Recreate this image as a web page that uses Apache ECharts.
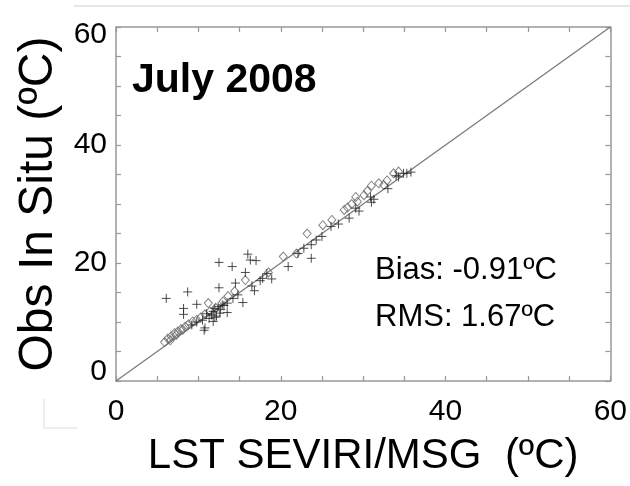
<!DOCTYPE html>
<html>
<head>
<meta charset="utf-8">
<script src="https://cdn.jsdelivr.net/npm/echarts@6/dist/echarts.min.js"></script>
<style>html,body{margin:0;padding:0;background:#fff}#c{width:630px;height:486px}</style>
</head>
<body>
<div id="c"></div>
<script>
// Axis ticks
var axisMin = 0, axisMax = 60, labelStep = 20, tickStep = 5;
var xTitle = 'LST SEVIRI/MSG  (ºC)';
var yTitle = 'Obs In Situ (ºC)';
var chartTitle = 'July 2008';
var biasText = 'Bias: -0.91ºC';
var rmsText = 'RMS: 1.67ºC';
// 1:1 reference line
var oneToOne = [[0, 0], [60, 60]];
// Plus-marker observations [LST, in situ]
var plusPoints = [
  [6.1,14.0],[8.7,15.1],[9.8,13.0],[8.2,12.3],[8.2,11.3],[12.5,20.1],[14.1,19.4],[12.5,15.8],
  [16.0,21.5],[16.3,20.5],[17.0,20.4],[15.7,18.4],[14.5,16.6],[16.8,15.3],[15.4,13.3],[13.5,11.6],
  [11.8,10.1],[10.7,8.6],[10.8,9.0],[18.9,17.3],[20.9,19.4],[17.5,17.0],[18.3,18.2],
  [11.6,11.2],[11.8,11.8],[12.0,12.3],[12.2,11.0],[12.4,12.6],[12.6,11.5],[12.9,12.9],[11.3,10.6],
  [12.0,10.8],[12.7,12.1],[13.1,12.8],[11.0,11.4],[10.5,10.3],[9.8,10.0],[9.2,9.5],[13.5,13.2],
  [14.2,14.0],[14.8,14.6],[16.5,16.1],[17.8,17.4],
  [22.1,21.6],[23.7,20.8],[23.7,23.1],[24.3,23.9],[26.1,26.2],[27.0,26.6],[28.3,27.6],[29.1,29.3],
  [29.5,28.8],[30.9,31.2],[31.3,30.8],[31.0,30.3],[33.0,32.6],[34.3,34.6],[34.9,35.2],[35.3,35.2],
  [34.0,34.8],[35.8,35.4],[25.0,24.5],[22.8,22.5]
];
// Diamond-marker observations [LST, in situ]
var diamondPoints = [
  [11.2,13.2],[15.7,17.1],[20.3,21.1],[18.5,18.4],[21.9,21.6],
  [5.9,6.6],[6.3,7.2],[6.7,7.6],[7.1,8.1],[7.5,8.4],[7.9,8.8],[8.4,9.2],[8.8,9.6],[9.3,10.1],
  [9.8,10.4],[10.3,10.8],[10.8,11.3],[11.4,11.8],[12.1,12.4],[13.0,13.5],[13.6,14.4],[14.4,15.2],
  [6.6,6.9],[7.3,7.8],[8.1,8.7],
  [23.2,25.0],[25.1,26.4],[26.2,27.3],[27.7,29.0],[28.1,29.4],[29.1,31.2],[29.3,30.4],[30.1,31.5],
  [31.0,33.1],[31.9,33.5],[32.5,33.2],[33.7,35.2],[34.3,35.5],[30.5,32.2],[32.9,34.0],[28.6,30.0]
];

var FONT = 'Liberation Sans, Arial, sans-serif';
var frameColor = '#999';
function baseAxis(extra) {
  var a = {
    type: 'value', min: axisMin, max: axisMax, interval: labelStep,
    axisLine: { show: true, onZero: false, lineStyle: { color: frameColor, width: 1.5 } },
    axisTick: { show: true, inside: true, length: 5, lineStyle: { color: frameColor, width: 1.2 } },
    minorTick: { show: true, splitNumber: labelStep / tickStep, length: 5, lineStyle: { color: frameColor, width: 1.2 } },
    splitLine: { show: false },
    axisLabel: { show: false }
  };
  for (var k in extra) a[k] = extra[k];
  return a;
}
var chart = echarts.init(document.getElementById('c'), null, { renderer: 'canvas' });
chart.setOption({
  animation: false,
  backgroundColor: '#fff',
  grid: { left: 116, right: 17, top: 27, bottom: 105 },
  title: [
    { text: chartTitle, left: 127, top: 55, textStyle: { fontFamily: FONT, fontSize: 41, fontWeight: 'bold', color: '#000' } },
    { text: biasText, left: 370, top: 250, textStyle: { fontFamily: FONT, fontSize: 31, fontWeight: 'normal', color: '#000' } },
    { text: rmsText, left: 370, top: 297, textStyle: { fontFamily: FONT, fontSize: 31, fontWeight: 'normal', color: '#000' } }
  ],
  xAxis: [
    baseAxis({
      position: 'bottom',
      name: xTitle, nameLocation: 'middle', nameGap: 54,
      nameTextStyle: { fontFamily: FONT, fontSize: 42, color: '#000' },
      axisLabel: { show: true, margin: 16, fontFamily: FONT, fontSize: 30, color: '#000' }
    }),
    baseAxis({ position: 'top' })
  ],
  yAxis: [
    baseAxis({
      position: 'left',
      name: yTitle, nameLocation: 'middle', nameGap: 50, nameRotate: 90,
      nameTextStyle: { fontFamily: FONT, fontSize: 48, color: '#000' },
      axisLabel: {
        show: true, margin: 9, fontFamily: FONT, fontSize: 30, color: '#000',
        formatter: function (v) {
          if (v === axisMax) return '{t|' + v + '}';
          if (v === axisMin) return '{b|' + v + '}';
          return '{n|' + v + '}';
        },
        rich: {
          t: { fontFamily: FONT, fontSize: 30, color: '#000', padding: [16, 0, 0, 0] },
          b: { fontFamily: FONT, fontSize: 30, color: '#000', padding: [0, 0, 18, 0] },
          n: { fontFamily: FONT, fontSize: 30, color: '#000' }
        }
      }
    }),
    baseAxis({ position: 'right' })
  ],
  series: [
    {
      type: 'line', data: oneToOne, xAxisIndex: 0, yAxisIndex: 0, symbol: 'none',
      lineStyle: { color: '#7a7a7a', width: 1.3 }, z: 1
    },
    {
      type: 'scatter', data: diamondPoints, symbol: 'diamond', symbolSize: [8, 9],
      itemStyle: { color: 'rgba(255,255,255,0)', borderColor: '#666', borderWidth: 1 }, z: 2
    },
    {
      type: 'scatter', data: plusPoints, symbol: 'path://M0,5L10,5M5,0L5,10', symbolSize: 9,
      itemStyle: { color: 'none', borderColor: '#222', borderWidth: 1 }, z: 3
    }
  ],
  graphic: [
    { type: 'line', shape: { x1: 74, y1: 6, x2: 630, y2: 6 }, style: { stroke: '#ccc', lineWidth: 1.2 } },
    { type: 'line', shape: { x1: 44, y1: 399, x2: 44, y2: 428 }, style: { stroke: '#ddd', lineWidth: 1 } },
    { type: 'line', shape: { x1: 44, y1: 428, x2: 78, y2: 428 }, style: { stroke: '#ddd', lineWidth: 1 } }
  ]
});
</script>
</body>
</html>
